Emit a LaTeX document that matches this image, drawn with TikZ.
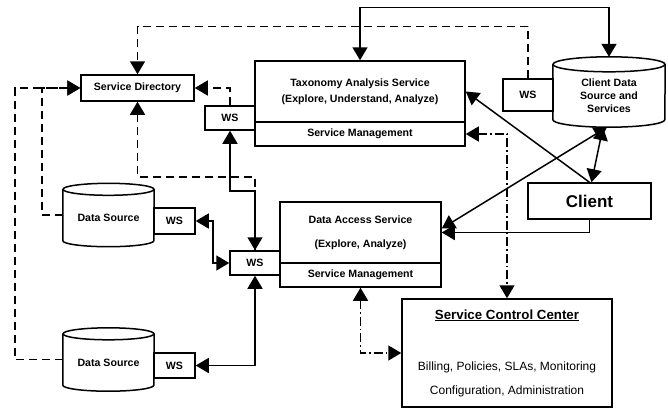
\documentclass[tikz,border=0pt]{standalone}
\usepackage{fontspec}
\setmainfont{Liberation Sans}
\usetikzlibrary{arrows.meta}
\usetikzlibrary{positioning}

% cylinder outline round a node: name, half width, y radius
\newcommand{\drawcyl}[3]{%
  \draw [line width=1.5pt] (#1.north west) -- ([yshift=#3]#1.south west)
    arc [start angle=180,end angle=360,x radius=#2,y radius=#3] -- (#1.north east);
  \draw [line width=1.5pt] (#1.north) ellipse [x radius=#2,y radius=#3];
}

\begin{document}
\begin{tikzpicture}
    [
    x=1pt,y=-1pt,
    >={Triangle[length=13pt,width=15pt]},
    box/.style={draw,line width=1.5pt,inner sep=0pt,align=center,font=\bfseries\fontsize{10.6}{16}\selectfont},
    dbase/.style={inner sep=0pt,align=center,font=\bfseries\fontsize{10.6}{13}\selectfont},
    conn/.style={line width=1.5pt},
    lookup/.style={conn,dash pattern=on 8pt off 5pt},
    control/.style={conn,dash pattern=on 9pt off 3pt on 1.5pt off 3pt},
    ]
    \useasboundingbox (0,0) rectangle (668,408);

    \node (sd) at (137.5,88) [box,minimum width=113pt,minimum height=26pt] {Service Directory};
    \node (tax) at (360,91.5) [box,minimum width=210pt,minimum height=61pt] {Taxonomy Analysis Service\\(Explore, Understand, Analyze)};
    \node (taxm) at (360,134) [box,minimum width=210pt,minimum height=24pt] {Service Management};
    \node (wst) at (230,118) [box,minimum width=50pt,minimum height=24pt] {WS};
    \node (cd) at (609,95.75) [dbase,minimum width=112pt,minimum height=62.5pt] {Client Data\\Source and\\Services};
    \node (wsc) at (528,95) [box,minimum width=50pt,minimum height=32pt] {WS};
    \node (das) at (360.5,232.5) [box,minimum width=161pt,minimum height=61pt] {Data Access Service\\[8pt](Explore, Analyze)};
    \node (dasm) at (360.5,275) [box,minimum width=161pt,minimum height=24pt] {Service Management};
    \node (wsd) at (255,263) [box,minimum width=50pt,minimum height=24pt] {WS};
    \node (ds1) at (108.5,218) [dbase,minimum width=91pt,minimum height=57pt] {Data Source};
    \node (ws1) at (174.5,221) [box,minimum width=41pt,minimum height=26pt] {WS};
    \node (ds2) at (108.5,362.5) [dbase,minimum width=91pt,minimum height=57pt] {Data Source};
    \node (ws2) at (174.5,365.5) [box,minimum width=41pt,minimum height=25pt] {WS};
    \node (cl) at (589.5,201) [box,minimum width=123pt,minimum height=36pt,font=\bfseries\fontsize{17}{20}\selectfont] {Client};
    \node (scc) at (507,353) [box,minimum width=210pt,minimum height=108pt,font=\fontsize{12}{24}\selectfont]
      {{\bfseries\fontsize{13.3}{24}\selectfont\underline{Service Control Center}}\\[27pt]Billing, Policies, SLAs, Monitoring\\Configuration, Administration};

    \drawcyl{cd}{56pt}{7.5pt}
    \drawcyl{ds1}{45.5pt}{6pt}
    \drawcyl{ds2}{45.5pt}{6pt}

    % directory lookups
    \draw [lookup,->] (wsc.north) -- ++(0,-52) -| (sd.north);
    \draw [lookup,->] (wst.north) |- (sd.east);
    \draw [lookup,->] ([yshift=3pt]ds1.west) -- ++(-21,0) |- (sd.west);
    \draw [lookup,->] ([yshift=3pt]ds2.west) -- ++(-48,0) |- (sd.west);
    \draw [lookup,<-] (sd.south) -- ++(0,75) -| (wsd.north);

    % service calls
    \draw [conn,<->] (tax.north) -- ++(0,-53) -| ([yshift=7.5pt]cd.north);
    \draw [conn,<->] (wst.south) -- ++(0,60) -| (wsd.north);
    \draw [conn,<->] (ws1.east) -- ++(17,0) |- (wsd.west);
    \draw [conn,<->] (ws2.east) -| (wsd.south);
    \draw [conn,->] (cl.north) -- (tax.east);
    \draw [conn,->] (cl.south) |- (das.east);
    \draw [conn,<->] ([yshift=4pt]das.east) -- ([xshift=-2pt]cd.south);
    \draw [conn,<->] ([xshift=2pt]cl.north) -- ([xshift=-6pt]cd.south);

    % management
    \draw [control,<->] (taxm.east) -| (scc.north);
    \draw [control,<->] (dasm.south) |- (scc.west);
  \end{tikzpicture}
\end{document}
